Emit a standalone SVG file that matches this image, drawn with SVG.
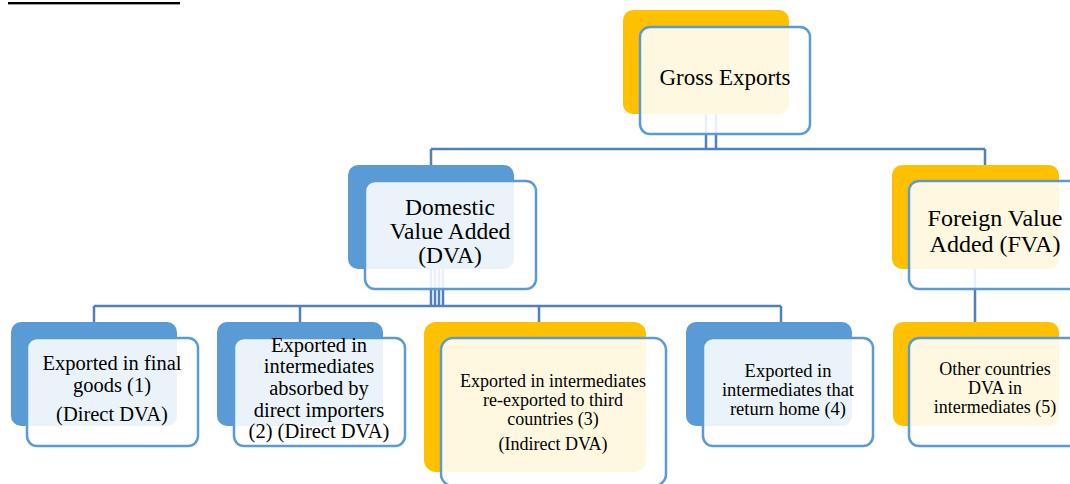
<svg xmlns="http://www.w3.org/2000/svg" width="1070" height="484" viewBox="0 0 1070 484">
  <style>
    .back-blue { fill: #5B9BD5; }
    .back-orange { fill: #FFC000; }
    .front { fill: #FFFFFF; fill-opacity: 0.88; stroke: #5B9BD5; stroke-width: 2.5; }
    .conn { stroke: #4F81BD; stroke-width: 2.5; fill: none; }
    text { fill: #000; text-anchor: middle; }
    .t23 { font-size: 23px; }
    .t24 { font-size: 24px; }
    .t20 { font-size: 20.5px; }
    .t18 { font-size: 18px; }
  </style>

  <rect id="caption-underline" x="8" y="2" width="172" height="2.4" fill="#000"/>

  <g id="connectors">
    <path class="conn" d="M706,62 V149 M716,62 V149 M431,149 H985 M431,149 V166 M985,149 V166"/>
    <path class="conn" d="M431,217 V306 M435,217 V306 M439,217 V306 M443,217 V306 M94,306 H781 M94,306 V323 M300,306 V323 M539,306 V323 M781,306 V323"/>
    <path class="conn" d="M975,217 V323"/>
  </g>

  <g font-family="'Liberation Serif', serif">
  <g id="gross-exports">
    <rect class="back-orange" x="623" y="10" width="166" height="104" rx="10"/>
    <rect class="front" x="640" y="27" width="170" height="107" rx="10"/>
    <text class="t23" x="725" y="85">Gross Exports</text>
  </g>

  <g id="dva">
    <rect class="back-blue" x="348" y="165" width="166" height="104" rx="10"/>
    <rect class="front" x="365" y="181" width="171" height="108" rx="10"/>
    <text class="t23" x="450" y="215" style="font-size:23.5px">Domestic</text>
    <text class="t23" x="450" y="239" style="font-size:23.5px">Value Added</text>
    <text class="t23" x="450" y="263" style="font-size:23.5px">(DVA)</text>
  </g>

  <g id="fva">
    <rect class="back-orange" x="892" y="165" width="167" height="104" rx="10"/>
    <rect class="front" x="909" y="181" width="171" height="108" rx="10"/>
    <text class="t24" x="995" y="226">Foreign Value</text>
    <text class="t24" x="995" y="252">Added (FVA)</text>
  </g>

  <g id="node1">
    <rect class="back-blue" x="11" y="322" width="166" height="104" rx="10"/>
    <rect class="front" x="27" y="338" width="171" height="108" rx="10"/>
    <text class="t20" x="112" y="370">Exported in final</text>
    <text class="t20" x="112" y="392">goods (1)</text>
    <text class="t20" x="112" y="421">(Direct DVA)</text>
  </g>

  <g id="node2">
    <rect class="back-blue" x="217" y="322" width="166" height="104" rx="10"/>
    <rect class="front" x="234" y="338" width="171" height="108" rx="10"/>
    <text class="t20" x="319" y="352">Exported in</text>
    <text class="t20" x="319" y="373">intermediates</text>
    <text class="t20" x="319" y="395">absorbed by</text>
    <text class="t20" x="319" y="417">direct importers</text>
    <text class="t20" x="319" y="438">(2) (Direct DVA)</text>
  </g>

  <g id="node3">
    <rect class="back-orange" x="424" y="322" width="222" height="150" rx="12"/>
    <rect class="front" x="441" y="338" width="225" height="148" rx="12"/>
    <text class="t18" x="553" y="387">Exported in intermediates</text>
    <text class="t18" x="553" y="406">re-exported to third</text>
    <text class="t18" x="553" y="425">countries (3)</text>
    <text class="t18" x="553" y="450">(Indirect DVA)</text>
  </g>

  <g id="node4">
    <rect class="back-blue" x="686" y="322" width="166" height="104" rx="10"/>
    <rect class="front" x="703" y="338" width="170" height="108" rx="10"/>
    <text class="t18" x="788" y="377" style="font-size:18.5px">Exported in</text>
    <text class="t18" x="788" y="396" style="font-size:18.5px">intermediates that</text>
    <text class="t18" x="788" y="415" style="font-size:18.5px">return home (4)</text>
  </g>

  <g id="node5">
    <rect class="back-orange" x="893" y="322" width="166" height="104" rx="10"/>
    <rect class="front" x="909" y="338" width="171" height="108" rx="10"/>
    <text class="t18" x="995" y="375">Other countries</text>
    <text class="t18" x="995" y="394">DVA in</text>
    <text class="t18" x="995" y="413">intermediates (5)</text>
  </g>
  </g>
</svg>
